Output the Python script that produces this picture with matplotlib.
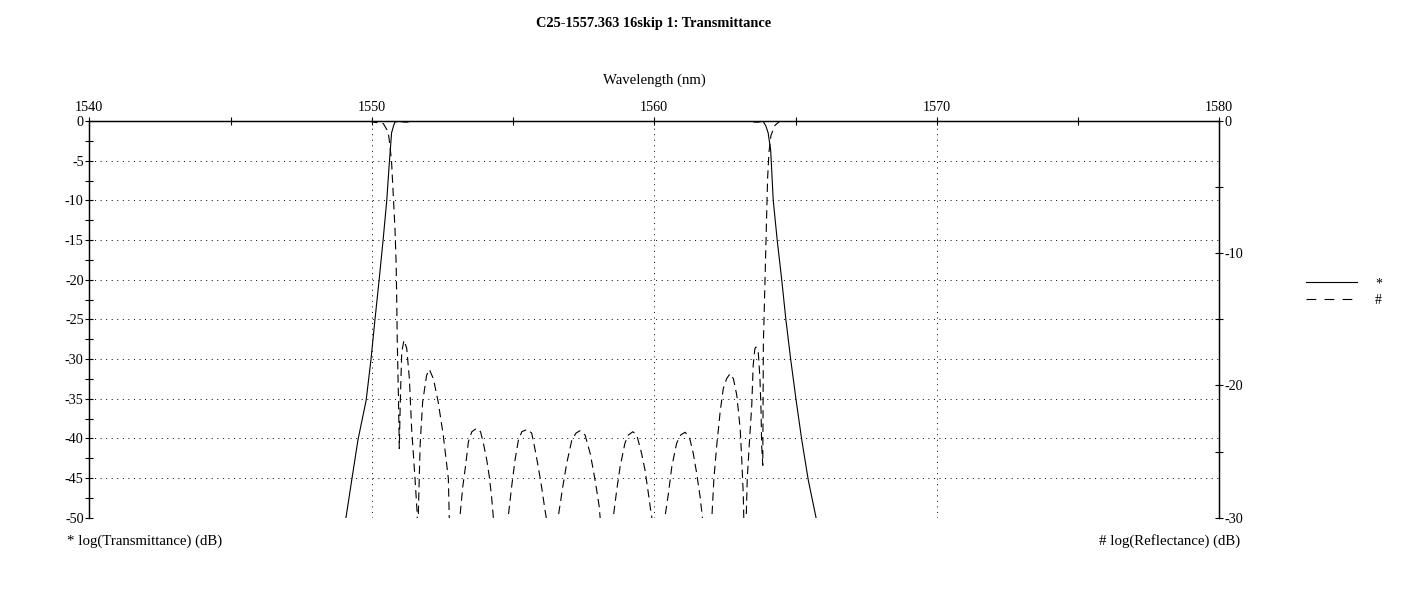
import matplotlib
matplotlib.use("Agg")
import matplotlib.pyplot as plt
from matplotlib.ticker import MultipleLocator
from matplotlib.lines import Line2D

plt.rcParams['font.family'] = ['Liberation Serif', 'DejaVu Serif']
plt.rcParams['font.size'] = 10
plt.rcParams['lines.scale_dashes'] = False
plt.rcParams['axes.unicode_minus'] = False

title = "C25-1557.363 16skip 1: Transmittance"
xlabel = "Wavelength (nm)"
left_label = "* log(Transmittance) (dB)"
right_label = "# log(Reflectance) (dB)"
series_names = ["*", "#"]

# Transmittance (left axis, dB)
trans_wl = [1548.95, 1549.09, 1549.29, 1549.51, 1549.80, 1549.97, 1550.11, 1550.26,
            1550.40, 1550.53, 1550.61, 1550.70, 1550.77, 1550.82, 1550.95, 1551.15,
            1551.25, 1551.38, 1557.36, 1563.45, 1563.55, 1563.70, 1563.80, 1563.86,
            1563.95, 1564.03, 1564.12, 1564.21, 1564.35, 1564.51, 1564.66, 1564.83,
            1565.02, 1565.22, 1565.45, 1565.72, 1565.80]
trans_db = [-51.5, -49.9, -45.25, -40.2, -35.2, -30.1, -25.1, -20.0,
            -15.0, -10.0, -5.8, -1.5, -0.6, -0.13, -0.03, -0.14,
            -0.14, -0.03, -0.01, -0.03, -0.14, -0.14, -0.05, -0.09,
            -0.63, -1.5, -3.7, -10.0, -15.0, -20.0, -25.1, -30.1,
            -35.2, -40.2, -45.25, -49.9, -51.5]

# Reflectance (right axis, dB)
refl_wl = [1540.0, 1549.9, 1550.05, 1550.41, 1550.58, 1550.64, 1550.70, 1550.76,
           1550.82, 1550.86, 1550.88, 1550.90, 1550.945, 1550.973, 1551.01, 1551.06,
           1551.14, 1551.235, 1551.33, 1551.41, 1551.53, 1551.61, 1551.628, 1551.646,
           1551.71, 1551.80, 1551.94, 1552.035, 1552.18, 1552.35, 1552.53, 1552.71,
           1552.74, 1552.93,
           1553.12, 1553.22, 1553.33, 1553.42, 1553.54, 1553.71, 1553.85, 1553.95,
           1554.07, 1554.16, 1554.24, 1554.30, 1554.56,
           1554.83, 1554.95, 1555.07, 1555.19, 1555.31, 1555.50, 1555.66, 1555.78,
           1555.89, 1556.01, 1556.13, 1556.17, 1556.38,
           1556.60, 1556.76, 1556.90, 1557.08, 1557.23, 1557.37, 1557.55, 1557.73,
           1557.84, 1557.96, 1558.05, 1558.08, 1558.31,
           1558.55, 1558.67, 1558.79, 1558.96, 1559.08, 1559.24, 1559.38, 1559.55,
           1559.67, 1559.79, 1559.87, 1559.91, 1560.14,
           1560.38, 1560.50, 1560.62, 1560.79, 1560.93, 1561.09, 1561.24, 1561.38,
           1561.50, 1561.62, 1561.70, 1561.86,
           1562.03, 1562.11, 1562.21, 1562.33, 1562.44, 1562.56, 1562.68, 1562.80,
           1562.92, 1563.04, 1563.10, 1563.15, 1563.17, 1563.21,
           1563.25, 1563.29, 1563.36, 1563.45, 1563.50, 1563.56, 1563.60, 1563.68,
           1563.74, 1563.78, 1563.80, 1563.84, 1563.86, 1563.92, 1563.95, 1563.98,
           1564.01, 1564.06, 1564.13, 1564.27, 1564.45, 1580.0]
refl_db = [0.0, -0.01, -0.08, -0.20, -0.83, -1.81, -3.09, -5.59,
           -8.14, -10.66, -13.16, -16.46, -21.1, -24.77, -21.1, -17.47,
           -16.58, -17.17, -19.49, -23.27, -27.05, -29.80, -40.0, -29.80,
           -24.53, -21.25, -19.23, -18.78, -19.49, -21.25, -23.77, -27.05,
           -29.80, -45.0,
           -29.92, -27.66, -25.89, -24.25, -23.50, -23.24, -23.50, -24.37,
           -25.64, -26.90, -28.41, -29.92, -45.0,
           -29.92, -27.66, -25.64, -24.13, -23.50, -23.32, -23.60, -24.86,
           -26.13, -27.66, -29.41, -29.92, -45.0,
           -29.92, -27.66, -25.89, -24.13, -23.60, -23.42, -23.75, -25.14,
           -26.39, -27.91, -29.17, -29.92, -45.0,
           -29.92, -27.91, -26.14, -24.37, -23.75, -23.50, -23.75, -25.14,
           -26.39, -28.16, -29.41, -29.92, -45.0,
           -29.92, -28.16, -26.14, -24.37, -23.75, -23.54, -23.88, -25.14,
           -26.64, -28.41, -29.92, -45.0,
           -30.3, -27.05, -24.53, -22.01, -20.25, -19.49, -19.11, -19.49,
           -20.74, -23.27, -25.79, -28.31, -30.3, -40.0,
           -30.3, -27.05, -24.53, -21.50, -18.48, -17.22, -17.09, -17.47,
           -19.49, -22.01, -24.53, -26.04, -16.96, -11.93, -9.40, -6.88,
           -4.36, -2.34, -1.08, -0.33, -0.01, 0.0]

assert len(trans_wl) == len(trans_db)
assert len(refl_wl) == len(refl_db)

W, H = 1401, 593
fig = plt.figure(figsize=(W / 100, H / 100), dpi=100)
x0, x1 = 89.3, 1219.3
y0, y1 = 121.0, 517.7
ax = fig.add_axes([x0 / W, 1 - y1 / H, (x1 - x0) / W, (y1 - y0) / H])
ax2 = ax.twinx()

lw = 0.8
ax.plot(trans_wl, trans_db, color='black', lw=lw, solid_joinstyle='miter')
ax2.plot(refl_wl, refl_db, color='black', lw=lw, dashes=(6.0, 3.6))

ax.set_xlim(1540, 1580)
ax.set_ylim(-50, 0)
ax2.set_ylim(-30, 0)

# ticks
ax.xaxis.tick_top()
ax.xaxis.set_major_locator(MultipleLocator(10))
ax.xaxis.set_minor_locator(MultipleLocator(5))
ax.yaxis.set_major_locator(MultipleLocator(5))
ax.yaxis.set_minor_locator(MultipleLocator(2.5))
ax2.yaxis.set_major_locator(MultipleLocator(10))
ax2.yaxis.set_minor_locator(MultipleLocator(5))

for a in (ax, ax2):
    a.tick_params(which='both', direction='inout', length=6, width=0.8, colors='black',
                  labelsize=10.2)
ax.tick_params(axis='x', which='both', top=True, bottom=False, labeltop=True,
               labelbottom=False, pad=2)
ax.tick_params(axis='y', which='both', pad=1)
ax2.tick_params(axis='y', which='both', pad=1)

for a in (ax, ax2):
    a.spines['bottom'].set_visible(False)
    for s in ('top', 'left', 'right'):
        a.spines[s].set_linewidth(0.9)
        a.spines[s].set_color('black')

# grid
ax.grid(True, which='major', color='black', lw=0.7, linestyle=(0, (0.7, 3.3)))
ax.set_axisbelow(True)
ax2.patch.set_visible(False)

# texts
fig.text(654 / W, 1 - 23 / H, title, ha='center', va='center', fontsize=10.4,
         fontweight='bold')
fig.text(654 / W, 1 - 80.5 / H, xlabel, ha='center', va='center', fontsize=10.6)
fig.text(67 / W, 1 - 541 / H, left_label, ha='left', va='center', fontsize=10.7)
fig.text(1240 / W, 1 - 541 / H, right_label, ha='right', va='center', fontsize=10.7)

# legend
h1 = Line2D([], [], color='black', lw=lw)
h2 = Line2D([], [], color='black', lw=lw, dashes=(7.0, 6.0))
fig.legend([h1, h2], series_names, loc='center left',
           bbox_to_anchor=(1293 / W, 1 - 292 / H), frameon=False,
           handlelength=3.7, handletextpad=1.3, labelspacing=0.25, fontsize=10)

fig.savefig("out.png", dpi=100)
